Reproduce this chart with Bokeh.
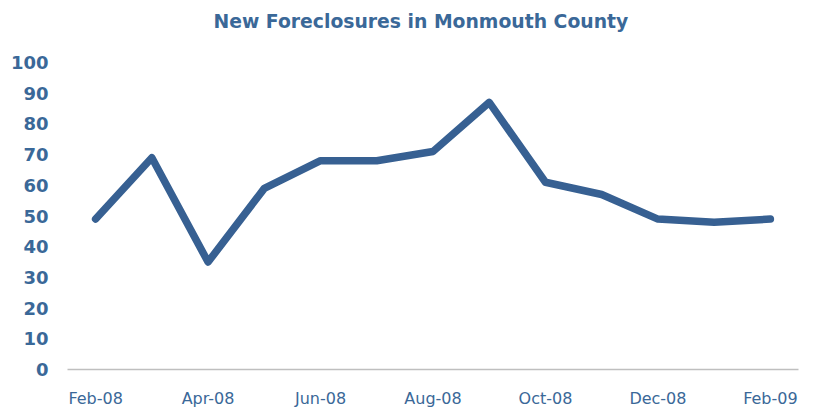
from bokeh.plotting import figure
from bokeh.models import FixedTicker, Range1d, Title
from bokeh.embed import file_html
from bokeh.resources import INLINE

months = ["Feb-08", "Mar-08", "Apr-08", "May-08", "Jun-08", "Jul-08", "Aug-08",
          "Sep-08", "Oct-08", "Nov-08", "Dec-08", "Jan-09", "Feb-09"]
foreclosures = [49, 69, 35, 59, 68, 68, 71, 87, 61, 57, 49, 48, 49]
y_ticks = [0, 10, 20, 30, 40, 50, 60, 70, 80, 90, 100]
title_text = "New Foreclosures in Monmouth County"

TEXT = "#3A6898"
LINE = "#376092"

x = list(range(len(months)))

p = figure(width=819, height=410, output_backend="svg", toolbar_location=None,
           x_range=Range1d(-0.5, len(months) - 0.5), y_range=Range1d(0, 100),
           min_border_left=67, min_border_right=21, min_border_top=62, min_border_bottom=38,
           title=title_text)
p.outline_line_color = None
p.grid.grid_line_color = None
p.background_fill_color = "white"
p.border_fill_color = "white"

p.title.text_font = "DejaVu Sans"
p.title.text_font_size = "18.8px"
p.title.text_font_style = "bold"
p.title.text_color = TEXT
p.title.align = "left"
p.title.standoff = 14
p.title.offset = 146

# empty spacer between the title and the plot area
spacer = Title(text=" ", text_font_size="20px", standoff=0)
p.add_layout(spacer, "above")

p.line(x, foreclosures, line_color=LINE, line_width=7.5, line_join="round", line_cap="round")

p.xaxis.ticker = FixedTicker(ticks=x[::2])
p.xaxis.major_label_overrides = {i: months[i] for i in x}
p.xaxis.axis_line_color = "#BFBFBF"
p.xaxis.axis_line_width = 1.5
p.xaxis.major_tick_line_color = None
p.xaxis.minor_tick_line_color = None
p.xaxis.major_tick_out = 0
p.xaxis.major_tick_in = 0
p.xaxis.axis_label_standoff = 0
p.xaxis.major_label_text_font = "DejaVu Sans"
p.xaxis.major_label_text_font_size = "16px"
p.xaxis.major_label_text_color = TEXT
p.xaxis.major_label_standoff = 19

p.yaxis.ticker = FixedTicker(ticks=y_ticks)
p.yaxis.axis_line_color = None
p.yaxis.major_tick_line_color = None
p.yaxis.minor_tick_line_color = None
p.yaxis.major_tick_out = 0
p.yaxis.major_tick_in = 0
p.yaxis.axis_label_standoff = 0
p.yaxis.major_label_text_font = "DejaVu Sans"
p.yaxis.major_label_text_font_size = "18px"
p.yaxis.major_label_text_font_style = "bold"
p.yaxis.major_label_text_color = TEXT
p.yaxis.major_label_standoff = 19

open("out.html", "w").write(file_html(p, INLINE))
